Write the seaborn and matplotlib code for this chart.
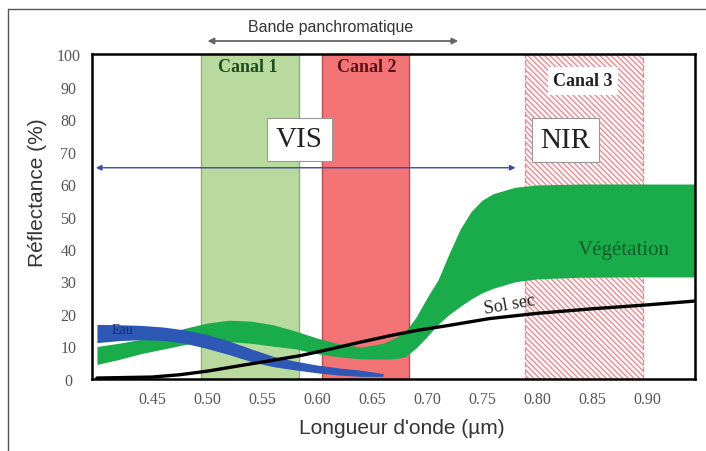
import matplotlib
matplotlib.use('Agg')
import matplotlib.pyplot as plt
import numpy as np
import pandas as pd
import seaborn as sns

# vegetation band (upper / lower edge), reflectance %
veg_x = [0.400, 0.42, 0.44, 0.46, 0.48, 0.50, 0.52, 0.54, 0.56, 0.58, 0.60,
         0.62, 0.64, 0.66, 0.67, 0.68, 0.69, 0.70, 0.71, 0.72, 0.73, 0.74,
         0.75, 0.76, 0.78, 0.80, 0.84, 0.88, 0.944]
veg_hi = [10.0, 11.0, 12.2, 13.8, 15.6, 17.2, 18.1, 17.8, 16.7, 14.8, 12.6,
          10.8, 9.8, 11.0, 12.5, 14.5, 19.0, 25.0, 30.5, 38.5, 46.0, 51.5,
          55.0, 57.0, 59.0, 59.7, 60.0, 60.0, 60.0]
veg_lo = [4.5, 6.0, 7.8, 9.2, 10.6, 11.3, 11.5, 11.0, 10.1, 9.3, 7.8,
          6.8, 6.2, 6.1, 6.2, 6.8, 9.5, 13.0, 16.8, 19.8, 22.3, 24.6,
          26.5, 27.9, 29.9, 30.8, 31.3, 31.4, 31.4]

# water band
eau_x = [0.40, 0.42, 0.44, 0.46, 0.48, 0.50, 0.52, 0.54, 0.56, 0.58, 0.60,
         0.62, 0.64, 0.66]
eau_hi = [16.8, 16.7, 16.5, 16.0, 15.1, 13.7, 11.7, 9.3, 7.0, 5.5, 4.3,
          3.4, 2.7, 1.7]
eau_lo = [11.2, 11.8, 12.1, 11.9, 11.0, 9.4, 7.5, 5.4, 3.8, 2.8, 1.9,
          1.2, 0.8, 0.8]

# dry soil line
sol_x = [0.40, 0.45, 0.475, 0.50, 0.53, 0.557, 0.585, 0.612, 0.639, 0.666,
         0.69, 0.72, 0.757, 0.80, 0.85, 0.90, 0.944]
sol_y = [0.3, 0.6, 1.3, 2.4, 4.1, 5.6, 7.2, 9.2, 11.3, 13.3,
         14.9, 16.5, 18.6, 20.2, 21.6, 22.8, 24.0]

# sensor channels
canaux = ['Canal 1', 'Canal 2', 'Canal 3']
canal_start = [0.495, 0.605, 0.789]
canal_end = [0.584, 0.684, 0.896]

x_ticks = [0.45, 0.50, 0.55, 0.60, 0.65, 0.70, 0.75, 0.80, 0.85, 0.90]
y_ticks = [0, 10, 20, 30, 40, 50, 60, 70, 80, 90, 100]

sns.set_theme(style='white')
plt.rcParams['font.family'] = ['Liberation Sans', 'DejaVu Sans']
plt.rcParams['hatch.linewidth'] = 0.9
SERIF = ['Liberation Serif', 'DejaVu Serif']

fig = plt.figure(figsize=(7.06, 4.52), dpi=100)
ax = fig.add_axes([0.1303, 0.1593, 0.8541, 0.7190])

# channel bands
ax.axvspan(canal_start[0], canal_end[0], facecolor='#b9da9e',
           edgecolor='#8fae80', lw=1, zorder=0)
ax.axvspan(canal_start[1], canal_end[1], facecolor='#f37476',
           edgecolor='#b85050', lw=1, zorder=0)
ax.axvspan(canal_start[2], canal_end[2], facecolor='#fdf3f4',
           edgecolor='#e08c93', hatch='\\\\\\\\\\\\', lw=1, ls='--',
           zorder=0)

# spectral signatures
ax.fill_between(veg_x, veg_lo, veg_hi, color='#1aab4b', lw=0, zorder=2)
ax.fill_between(eau_x, eau_lo, eau_hi, color='#2d58b5', lw=0, zorder=3)
soil = pd.DataFrame({'x': sol_x, 'y': sol_y})
sns.lineplot(data=soil, x='x', y='y', ax=ax, color='black', lw=2.4,
             zorder=4)

ax.set_xlim(0.3955, 0.9436)
ax.set_ylim(0, 100)
ax.set_xticks(x_ticks)
ax.set_xticklabels(['%.2f' % v for v in x_ticks])
ax.set_yticks(y_ticks)
ax.tick_params(axis='both', length=0, labelsize=11.5, labelcolor='#555555')
ax.tick_params(axis='x', pad=9)
ax.tick_params(axis='y', pad=17)
for lab in ax.get_xticklabels() + ax.get_yticklabels():
    lab.set_family(SERIF)
for lab in ax.get_yticklabels():
    lab.set_ha('center')

for sp in ax.spines.values():
    sp.set_color('black')
    sp.set_linewidth(1.8)
    sp.set_zorder(6)

ax.set_xlabel("Longueur d'onde (\u00b5m)", fontsize=15, color='#333333')
ax.set_ylabel('Réflectance (%)', fontsize=15, color='#333333')
ax.xaxis.set_label_coords(0.514, -0.148)
ax.xaxis.label.set_va('center')
ax.yaxis.set_label_coords(-0.0896, 0.575)
ax.yaxis.label.set_va('center')

# channel titles
ax.text(0.537, 96.3, canaux[0], family=SERIF, fontsize=13, weight='bold',
        color='#1f4d1f', ha='center', va='center', zorder=5)
ax.text(0.645, 96.3, canaux[1], family=SERIF, fontsize=13, weight='bold',
        color='#5a1414', ha='center', va='center', zorder=5)
ax.text(0.842, 91.7, canaux[2], family=SERIF, fontsize=13, weight='bold',
        color='#222222', ha='center', va='center', zorder=5,
        bbox=dict(boxstyle='square,pad=0.3', fc='white', ec='none'))

# VIS / NIR
box = dict(boxstyle='square,pad=0.3', fc='white', ec='#999999', lw=0.8)
ax.text(0.584, 73.7, 'VIS', family=SERIF, fontsize=21, color='#222222',
        ha='center', va='center', bbox=box, zorder=5)
ax.text(0.826, 73.5, 'NIR', family=SERIF, fontsize=21, color='#222222',
        ha='center', va='center', bbox=box, zorder=5)
ax.annotate('', xy=(0.3965, 65), xytext=(0.783, 65),
            arrowprops=dict(arrowstyle='<|-|>', color='#3a4ea0', lw=1,
                            mutation_scale=8), zorder=5)

# panchromatic band
ax.annotate('', xy=(0.498, 104), xytext=(0.731, 104),
            arrowprops=dict(arrowstyle='<|-|>', color='#666666', lw=1.3,
                            mutation_scale=9), annotation_clip=False)
ax.text(0.612, 108.6, 'Bande panchromatique', fontsize=11.5,
        color='#333333', ha='center', va='center', clip_on=False)

# curve labels
ax.text(0.879, 40, 'Végétation', family=SERIF, fontsize=15, color='#0e5c27',
        ha='center', va='center', zorder=5)
ax.text(0.775, 23, 'Sol sec', family=SERIF, fontsize=13, color='#222222',
        ha='center', va='center', rotation=10, zorder=5)
ax.text(0.423, 15.2, 'Eau', family=SERIF, fontsize=10, color='#1a2a70',
        ha='center', va='center', zorder=5)

# outer frame (left and top only)
fig.add_artist(plt.Line2D([8 / 706, 8 / 706], [0, 1 - 10 / 452],
                          transform=fig.transFigure, color='#555555', lw=1))
fig.add_artist(plt.Line2D([8 / 706, 1], [1 - 10 / 452, 1 - 10 / 452],
                          transform=fig.transFigure, color='#555555', lw=1))

fig.savefig('out.png', dpi=100)
